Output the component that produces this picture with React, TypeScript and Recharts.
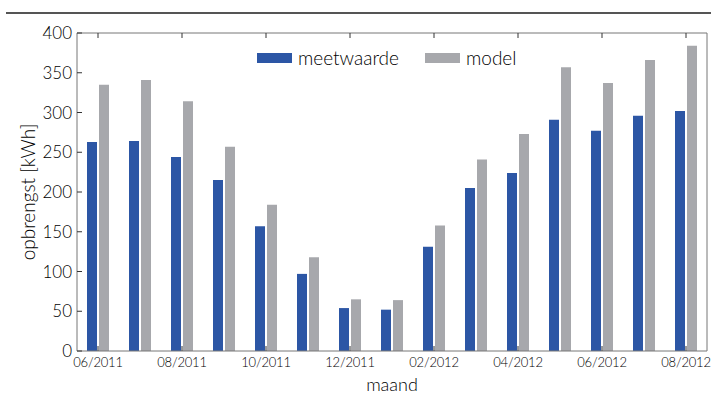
import { BarChart, Bar, XAxis, YAxis, Legend, Label } from 'recharts';

// monthly yield: measured vs. model, June 2011 - August 2012
const months = [
  '06/2011', '07/2011', '08/2011', '09/2011', '10/2011', '11/2011', '12/2011', '01/2012',
  '02/2012', '03/2012', '04/2012', '05/2012', '06/2012', '07/2012', '08/2012',
];
const meetwaarde = [263, 264, 244, 215, 157, 97, 54, 52, 131, 205, 224, 291, 277, 296, 302];
const model = [335, 341, 314, 257, 184, 118, 65, 64, 158, 241, 273, 357, 337, 366, 384];
const yTicks = [0, 50, 100, 150, 200, 250, 300, 350, 400];

const data = months.map((maand, i) => ({ maand, meetwaarde: meetwaarde[i], model: model[i] }));

const FONT = 'Lato, "DejaVu Sans", sans-serif';
const WEIGHT = 300;
const TEXT = '#000';
const AXIS = '#777';
const TICK = '#333';
const BLUE = '#2c56a5';
const GREY = '#a7a8ac';

const renderLegend = (props: any) => (
  <div style={{ display: 'flex', gap: 26, fontFamily: FONT, fontWeight: WEIGHT, fontSize: 19, color: TEXT, lineHeight: '20px' }}>
    {(props.payload || []).map((entry: any) => (
      <span key={entry.value} style={{ display: 'flex', alignItems: 'center' }}>
        <span style={{ display: 'inline-block', width: 35, height: 10, background: entry.color, marginRight: 6 }} />
        <span>{entry.value}</span>
      </span>
    ))}
  </div>
);

export default function App() {
  return (
    <div style={{ position: 'absolute', left: 0, top: 0, width: 711, height: 398, background: '#fff' }}>
      <div style={{ position: 'absolute', left: 6, top: 12, width: 705, height: 2, background: '#555' }} />
      <BarChart
        width={711}
        height={398}
        data={data}
        margin={{ top: 32, right: 3, bottom: 0, left: 0 }}
        barSize={10}
        barGap={2}
      >
        <XAxis
          dataKey="maand"
          interval={1}
          height={47}
          tickSize={-5}
          tickMargin={12}
          stroke={AXIS}
          tickLine={{ stroke: TICK }}
          tick={{ fill: TEXT, fontSize: 13, fontFamily: FONT, fontWeight: WEIGHT, letterSpacing: -0.2 }}
        >
          <Label value="maand" position="insideBottom" offset={7} fill={TEXT} fontSize={18} fontFamily={FONT} fontWeight={WEIGHT} />
        </XAxis>
        <XAxis
          xAxisId="top"
          dataKey="maand"
          orientation="top"
          interval={1}
          height={1}
          tickSize={-5}
          stroke={AXIS}
          tickLine={{ stroke: TICK }}
          tickFormatter={() => ''}
        />
        <YAxis
          domain={[0, 400]}
          ticks={yTicks}
          width={77}
          tickSize={-5}
          tickMargin={10}
          stroke={AXIS}
          tickLine={{ stroke: TICK }}
          tick={{ fill: TEXT, fontSize: 17, fontFamily: FONT, fontWeight: WEIGHT }}
        >
          <Label
            value="opbrengst [kWh]"
            angle={-90}
            position="insideLeft"
            offset={28}
            style={{ textAnchor: 'middle' }}
            fill={TEXT}
            fontSize={19}
            fontFamily={FONT}
            fontWeight={WEIGHT}
          />
        </YAxis>
        <YAxis
          yAxisId="r"
          orientation="right"
          domain={[0, 400]}
          ticks={yTicks}
          width={1}
          tickSize={-5}
          stroke={AXIS}
          tickLine={{ stroke: TICK }}
          tickFormatter={() => ''}
        />
        <Legend
          layout="horizontal"
          align="center"
          verticalAlign="middle"
          wrapperStyle={{ top: 48, left: 257, width: 'auto' }}
          content={renderLegend}
        />
        <Bar dataKey="meetwaarde" name="meetwaarde" fill={BLUE} isAnimationActive={false} />
        <Bar dataKey="model" name="model" fill={GREY} isAnimationActive={false} />
      </BarChart>
    </div>
  );
}
